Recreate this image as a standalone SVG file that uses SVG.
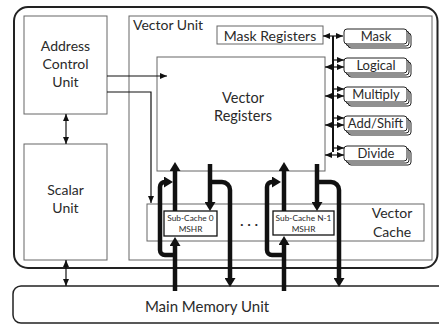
<svg xmlns="http://www.w3.org/2000/svg" width="439" height="325" viewBox="0 0 439 325">
<defs>
<style>
text{font-family:Lato,"Liberation Sans",sans-serif;fill:#2a2a2a;}
.box{fill:#fff;stroke:#666;stroke-width:1;}
.sub{fill:#fff;stroke:#111;stroke-width:1.3;}
.fu rect{fill:#fff;stroke:#222;stroke-width:1;}
.thin{fill:none;stroke:#111;stroke-width:1.2;}
.thick{fill:none;stroke:#111;stroke-width:4.5;}
.t14{font-size:14px;text-anchor:middle;}
.t13{font-size:13px;text-anchor:middle;}
.t9{font-size:8.3px;text-anchor:middle;}
</style>
<marker id="ah" markerUnits="userSpaceOnUse" markerWidth="7" markerHeight="6" refX="7" refY="3" orient="auto-start-reverse"><path d="M0,0 L7,3 L0,6 z" fill="#111"/></marker>
<marker id="th" markerUnits="userSpaceOnUse" markerWidth="10" markerHeight="11" refX="1" refY="5.5" orient="auto"><path d="M0,0 L9,5.5 L0,11 z" fill="#111"/></marker>
</defs>
<rect x="14" y="7" width="423.5" height="261" rx="14" fill="#fff" stroke="#222" stroke-width="2"/>
<rect x="13" y="286" width="440" height="37" rx="8" fill="#fff" stroke="#222" stroke-width="1.5"/>
<g id="main-memory"><text x="207" y="312" class="t14" style="font-size:15px">Main Memory Unit</text></g>
<g id="vector-unit"><rect class="box" x="129" y="16" width="303" height="244"/><text x="133" y="30" style="font-size:14px">Vector Unit</text></g>
<g id="address-control-unit"><rect class="box" x="24" y="16" width="83" height="98"/><text class="t14" x="65.5" y="51">Address</text><text class="t14" x="65.5" y="69">Control</text><text class="t14" x="65.5" y="87">Unit</text></g>
<g id="scalar-unit"><rect class="box" x="24" y="144" width="83" height="116"/><text class="t14" x="65.5" y="195">Scalar</text><text class="t14" x="65.5" y="213">Unit</text></g>
<g id="mask-registers"><rect class="box" x="217" y="26" width="106" height="18"/><text class="t14" x="270" y="40.5">Mask Registers</text></g>
<g id="vector-registers"><rect class="box" x="157" y="57" width="168" height="114"/><text class="t14" x="243" y="103" style="font-size:14.5px">Vector</text><text class="t14" x="243" y="121" style="font-size:14.5px">Registers</text></g>
<g id="vector-cache"><rect class="box" x="147" y="204" width="277" height="37"/><text class="t14" x="392" y="218">Vector</text><text class="t14" x="392" y="237">Cache</text><text x="249" y="229" class="t14">· · ·</text></g>
<g id="sub-cache-0"><rect class="sub" x="164" y="211" width="53" height="25"/><text class="t9" x="190.5" y="221">Sub-Cache 0</text><text class="t9" x="190.5" y="232">MSHR</text></g>
<g id="sub-cache-n1"><rect class="sub" x="273" y="211" width="61" height="24"/><text class="t9" x="303.5" y="221">Sub-Cache N-1</text><text class="t9" x="303.5" y="232">MSHR</text></g>
<g id="fu-mask" class="fu"><rect x="348" y="33" width="63" height="15" rx="3"/><rect x="346" y="31" width="63" height="15" rx="3"/><rect x="344" y="29" width="63" height="15" rx="3"/><text class="t13" x="376" y="41">Mask</text></g>
<g id="fu-logical" class="fu"><rect x="348" y="62" width="63" height="15" rx="3"/><rect x="346" y="60" width="63" height="15" rx="3"/><rect x="344" y="58" width="63" height="15" rx="3"/><text class="t13" x="376" y="70">Logical</text></g>
<g id="fu-multiply" class="fu"><rect x="348" y="91" width="63" height="15" rx="3"/><rect x="346" y="89" width="63" height="15" rx="3"/><rect x="344" y="87" width="63" height="15" rx="3"/><text class="t13" x="376" y="99">Multiply</text></g>
<g id="fu-addshift" class="fu"><rect x="348" y="120" width="63" height="15" rx="3"/><rect x="346" y="118" width="63" height="15" rx="3"/><rect x="344" y="116" width="63" height="15" rx="3"/><text class="t13" x="375.5" y="128">Add/Shift</text></g>
<g id="fu-divide" class="fu"><rect x="348" y="150" width="63" height="15" rx="3"/><rect x="346" y="148" width="63" height="15" rx="3"/><rect x="344" y="146" width="63" height="15" rx="3"/><text class="t13" x="376" y="158">Divide</text></g>
<g id="connectors">
<path class="thin" d="M107,76 H167" marker-end="url(#ah)"/>
<path class="thin" d="M107,92 H151 V203" marker-end="url(#ah)"/>
<path class="thin" d="M66,114 V144" marker-start="url(#ah)" marker-end="url(#ah)"/>
<path class="thin" d="M66,260 V286" marker-start="url(#ah)" marker-end="url(#ah)"/>
<path class="thin" d="M323,36 H343" marker-start="url(#ah)" marker-end="url(#ah)"/>
<path d="M333,36 V152" fill="none" stroke="#111" stroke-width="2"/>
<path class="thin" d="M333,60 H344" marker-end="url(#ah)"/>
<path class="thin" d="M325,67 H344" marker-start="url(#ah)" marker-end="url(#ah)"/>
<path class="thin" d="M333,89 H344" marker-end="url(#ah)"/>
<path class="thin" d="M325,96 H344" marker-start="url(#ah)" marker-end="url(#ah)"/>
<path class="thin" d="M333,118 H344" marker-end="url(#ah)"/>
<path class="thin" d="M325,125 H344" marker-start="url(#ah)" marker-end="url(#ah)"/>
<path class="thin" d="M333,148 H344" marker-end="url(#ah)"/>
<path class="thin" d="M325,155 H344" marker-start="url(#ah)" marker-end="url(#ah)"/>
<path class="thick" d="M175,211 V170" marker-end="url(#th)"/>
<path class="thick" d="M175,291 V245" marker-end="url(#th)"/>
<path class="thick" d="M175,255 H165 A5,5 0 0 1 160,250 V187 A5,5 0 0 1 165,182" marker-end="url(#th)"/>
<path class="thick" d="M210,164 V203" marker-end="url(#th)"/>
<path class="thick" d="M210,182 H222 A8,8 0 0 1 230,190 V279" marker-end="url(#th)"/>
<path class="thick" d="M284,211 V170" marker-end="url(#th)"/>
<path class="thick" d="M284,291 V244" marker-end="url(#th)"/>
<path class="thick" d="M284,255 H272 A5,5 0 0 1 267,250 V187 A5,5 0 0 1 272,182 H273" marker-end="url(#th)"/>
<path class="thick" d="M317,164 V203" marker-end="url(#th)"/>
<path class="thick" d="M317,182 H331 A8,8 0 0 1 339,190 V279" marker-end="url(#th)"/>
</g>
</svg>
